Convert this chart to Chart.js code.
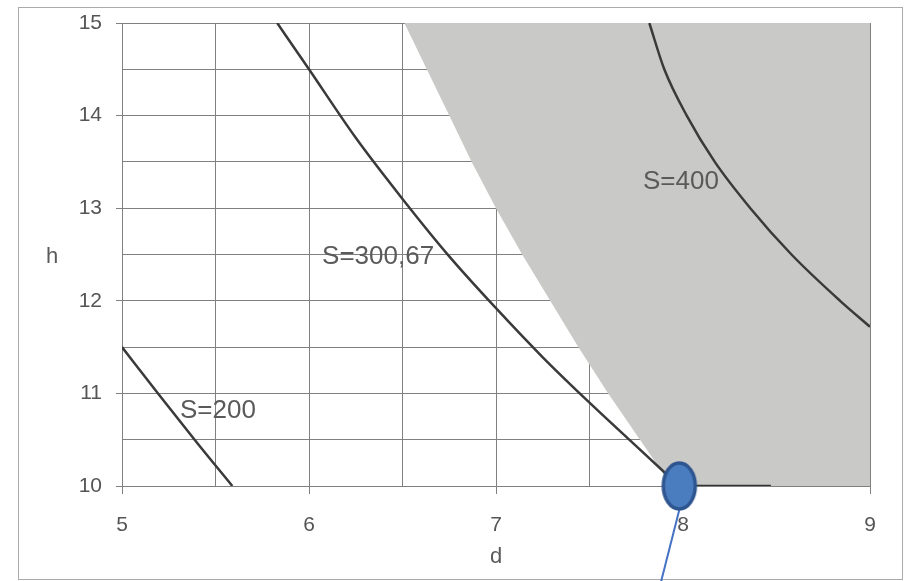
<!DOCTYPE html>
<html>
<head>
    <title>Gráfica S(d, h)</title>
    <script src="https://cdn.jsdelivr.net/npm/chart.js@4.4.0/dist/chart.umd.min.js"></script>
</head>
<body>
    <div class="marco"></div>
    <div class="chart-container">
        <canvas id="myChart"></canvas>
    </div>
    <script>
        // Datos (d en el eje x, h en el eje y)
        const s200D = [5.0, 5.2, 5.4, 5.59];
        const s200H = [11.5, 10.98, 10.47, 10.0];

        const s300D = [5.83, 6.0, 6.25, 6.5, 6.75, 7.0, 7.25, 7.5, 7.75, 7.98];
        const s300H = [15.0, 14.5, 13.76, 13.1, 12.48, 11.92, 11.39, 10.9, 10.43, 10.0];

        const s400D = [7.82, 7.9, 8.02, 8.17, 8.36, 8.58, 8.84, 9.0];
        const s400H = [15.0, 14.5, 14.0, 13.5, 13.0, 12.5, 12.0, 11.72];

        // Borde de la zona gris (región factible)
        const zonaD = [6.51, 6.63, 6.75, 6.87, 7.0, 7.14, 7.29, 7.44, 7.6, 7.77, 7.94, 9.0];
        const zonaH = [15.0, 14.5, 14.0, 13.5, 13.0, 12.5, 12.0, 11.5, 11.0, 10.5, 10.0, 10.0];

        // Tramo sobre h = 10
        const limiteD = [7.98, 8.47];
        const limiteH = [10.0, 10.0];

        // Punto óptimo marcado y flecha
        const optimoD = [7.98];
        const optimoH = [10.0];
        const flechaD = [7.98, 7.883];
        const flechaH = [9.74, 8.97];

        const xTicks = [5, 6, 7, 8, 9];
        const yTicks = [10, 11, 12, 13, 14, 15];

        const etiquetas = [
            { texto: 'S=200', d: 5.31, h: 10.81 },
            { texto: 'S=300,67', d: 6.07, h: 12.47 },
            { texto: 'S=400', d: 7.786, h: 13.29 }
        ];

        function puntos(xs, ys) {
            return xs.map((x, i) => ({ x: x, y: ys[i] }));
        }

        // Elipse azul como pointStyle
        const elipse = document.createElement('canvas');
        elipse.width = 40;
        elipse.height = 54;
        const ec = elipse.getContext('2d');
        ec.beginPath();
        ec.ellipse(20, 27, 16, 23, 0, 0, Math.PI * 2);
        ec.fillStyle = '#4a7dc0';
        ec.fill();
        ec.lineWidth = 3.5;
        ec.strokeStyle = '#2e5590';
        ec.stroke();

        const colorCurva = '#3a3a3a';
        const colorTexto = '#5a5a5a';
        const fuente = "'Liberation Sans', Arial, sans-serif";

        // Textos S=... y títulos de ejes sin rotar
        const textosPlugin = {
            id: 'textos',
            afterDatasetsDraw(chart) {
                const ctx = chart.ctx;
                const xs = chart.scales.x;
                const ys = chart.scales.y;
                const area = chart.chartArea;
                ctx.save();
                ctx.fillStyle = colorTexto;
                ctx.textBaseline = 'middle';
                ctx.textAlign = 'left';
                ctx.font = '26px ' + fuente;
                etiquetas.forEach(e => {
                    ctx.fillText(e.texto, xs.getPixelForValue(e.d), ys.getPixelForValue(e.h));
                });
                ctx.font = '22px ' + fuente;
                ctx.textAlign = 'center';
                ctx.fillText('h', area.left - 70, (area.top + area.bottom) / 2 + 2);
                ctx.fillText('d', (area.left + area.right) / 2, area.bottom + 71);
                ctx.restore();
            }
        };

        const soloEnteros = (valores) => (ctx) => {
            const v = ctx.tick ? ctx.tick.value : null;
            return valores.includes(v) ? '#808080' : 'rgba(0,0,0,0)';
        };

        var ctx = document.getElementById('myChart').getContext('2d');
        var myChart = new Chart(ctx, {
            type: 'line',
            data: {
                datasets: [
                    {
                        data: puntos(optimoD, optimoH),
                        showLine: false,
                        pointStyle: elipse,
                        pointRadius: 20,
                        clip: false
                    },
                    {
                        data: puntos(flechaD, flechaH),
                        borderColor: '#4472c4',
                        borderWidth: 2,
                        pointRadius: 0,
                        clip: false
                    },
                    {
                        data: puntos(limiteD, limiteH),
                        borderColor: '#333333',
                        borderWidth: 2.5,
                        pointRadius: 0
                    },
                    {
                        data: puntos(s200D, s200H),
                        borderColor: colorCurva,
                        borderWidth: 2.5,
                        pointRadius: 0,
                        cubicInterpolationMode: 'monotone'
                    },
                    {
                        data: puntos(s300D, s300H),
                        borderColor: colorCurva,
                        borderWidth: 2.5,
                        pointRadius: 0,
                        cubicInterpolationMode: 'monotone'
                    },
                    {
                        data: puntos(s400D, s400H),
                        borderColor: colorCurva,
                        borderWidth: 2.5,
                        pointRadius: 0,
                        cubicInterpolationMode: 'monotone'
                    },
                    {
                        data: puntos(zonaD, zonaH),
                        borderWidth: 0,
                        borderColor: 'rgba(0,0,0,0)',
                        backgroundColor: 'rgb(201,202,199)',
                        pointRadius: 0,
                        fill: 'end'
                    }
                ]
            },
            options: {
                responsive: true,
                maintainAspectRatio: false,
                animation: false,
                layout: {
                    padding: { left: 0, top: 23, right: 34, bottom: 0 }
                },
                scales: {
                    x: {
                        type: 'linear',
                        min: 5,
                        max: 9,
                        afterFit: (s) => {
                            s.height = 95;
                            s.paddingLeft = 0;
                            s.paddingRight = 0;
                        },
                        ticks: {
                            stepSize: 0.5,
                            autoSkip: false,
                            maxRotation: 0,
                            padding: 19,
                            color: '#555',
                            font: { family: fuente, size: 21 },
                            callback: (v) => xTicks.includes(v) ? String(v) : ''
                        },
                        grid: {
                            color: '#808080',
                            lineWidth: 1,
                            tickLength: 8,
                            tickColor: soloEnteros(xTicks)
                        },
                        border: { color: '#808080', width: 1 }
                    },
                    y: {
                        type: 'linear',
                        min: 10,
                        max: 15,
                        afterFit: (s) => {
                            s.width = 122;
                            s.paddingTop = 0;
                            s.paddingBottom = 0;
                        },
                        ticks: {
                            stepSize: 0.5,
                            autoSkip: false,
                            padding: 14,
                            color: '#555',
                            font: { family: fuente, size: 21 },
                            callback: (v) => yTicks.includes(v) ? String(v) : ''
                        },
                        grid: {
                            color: '#808080',
                            lineWidth: 1,
                            tickLength: 6,
                            tickColor: soloEnteros(yTicks)
                        },
                        border: { color: '#808080', width: 1 }
                    }
                },
                plugins: {
                    legend: { display: false },
                    tooltip: { enabled: false }
                }
            },
            plugins: [textosPlugin]
        });
    </script>
    <style>
        body {
            margin: 0;
            padding: 0;
            overflow: hidden;
            background-color: white;
        }
        .chart-container {
            position: absolute;
            top: 0;
            left: 0;
            width: 904px;
            height: 581px;
        }
        .marco {
            position: absolute;
            left: 18px;
            top: 7px;
            width: 883px;
            height: 571px;
            border: 1px solid #aaaaaa;
        }
    </style>
</body>
</html>
